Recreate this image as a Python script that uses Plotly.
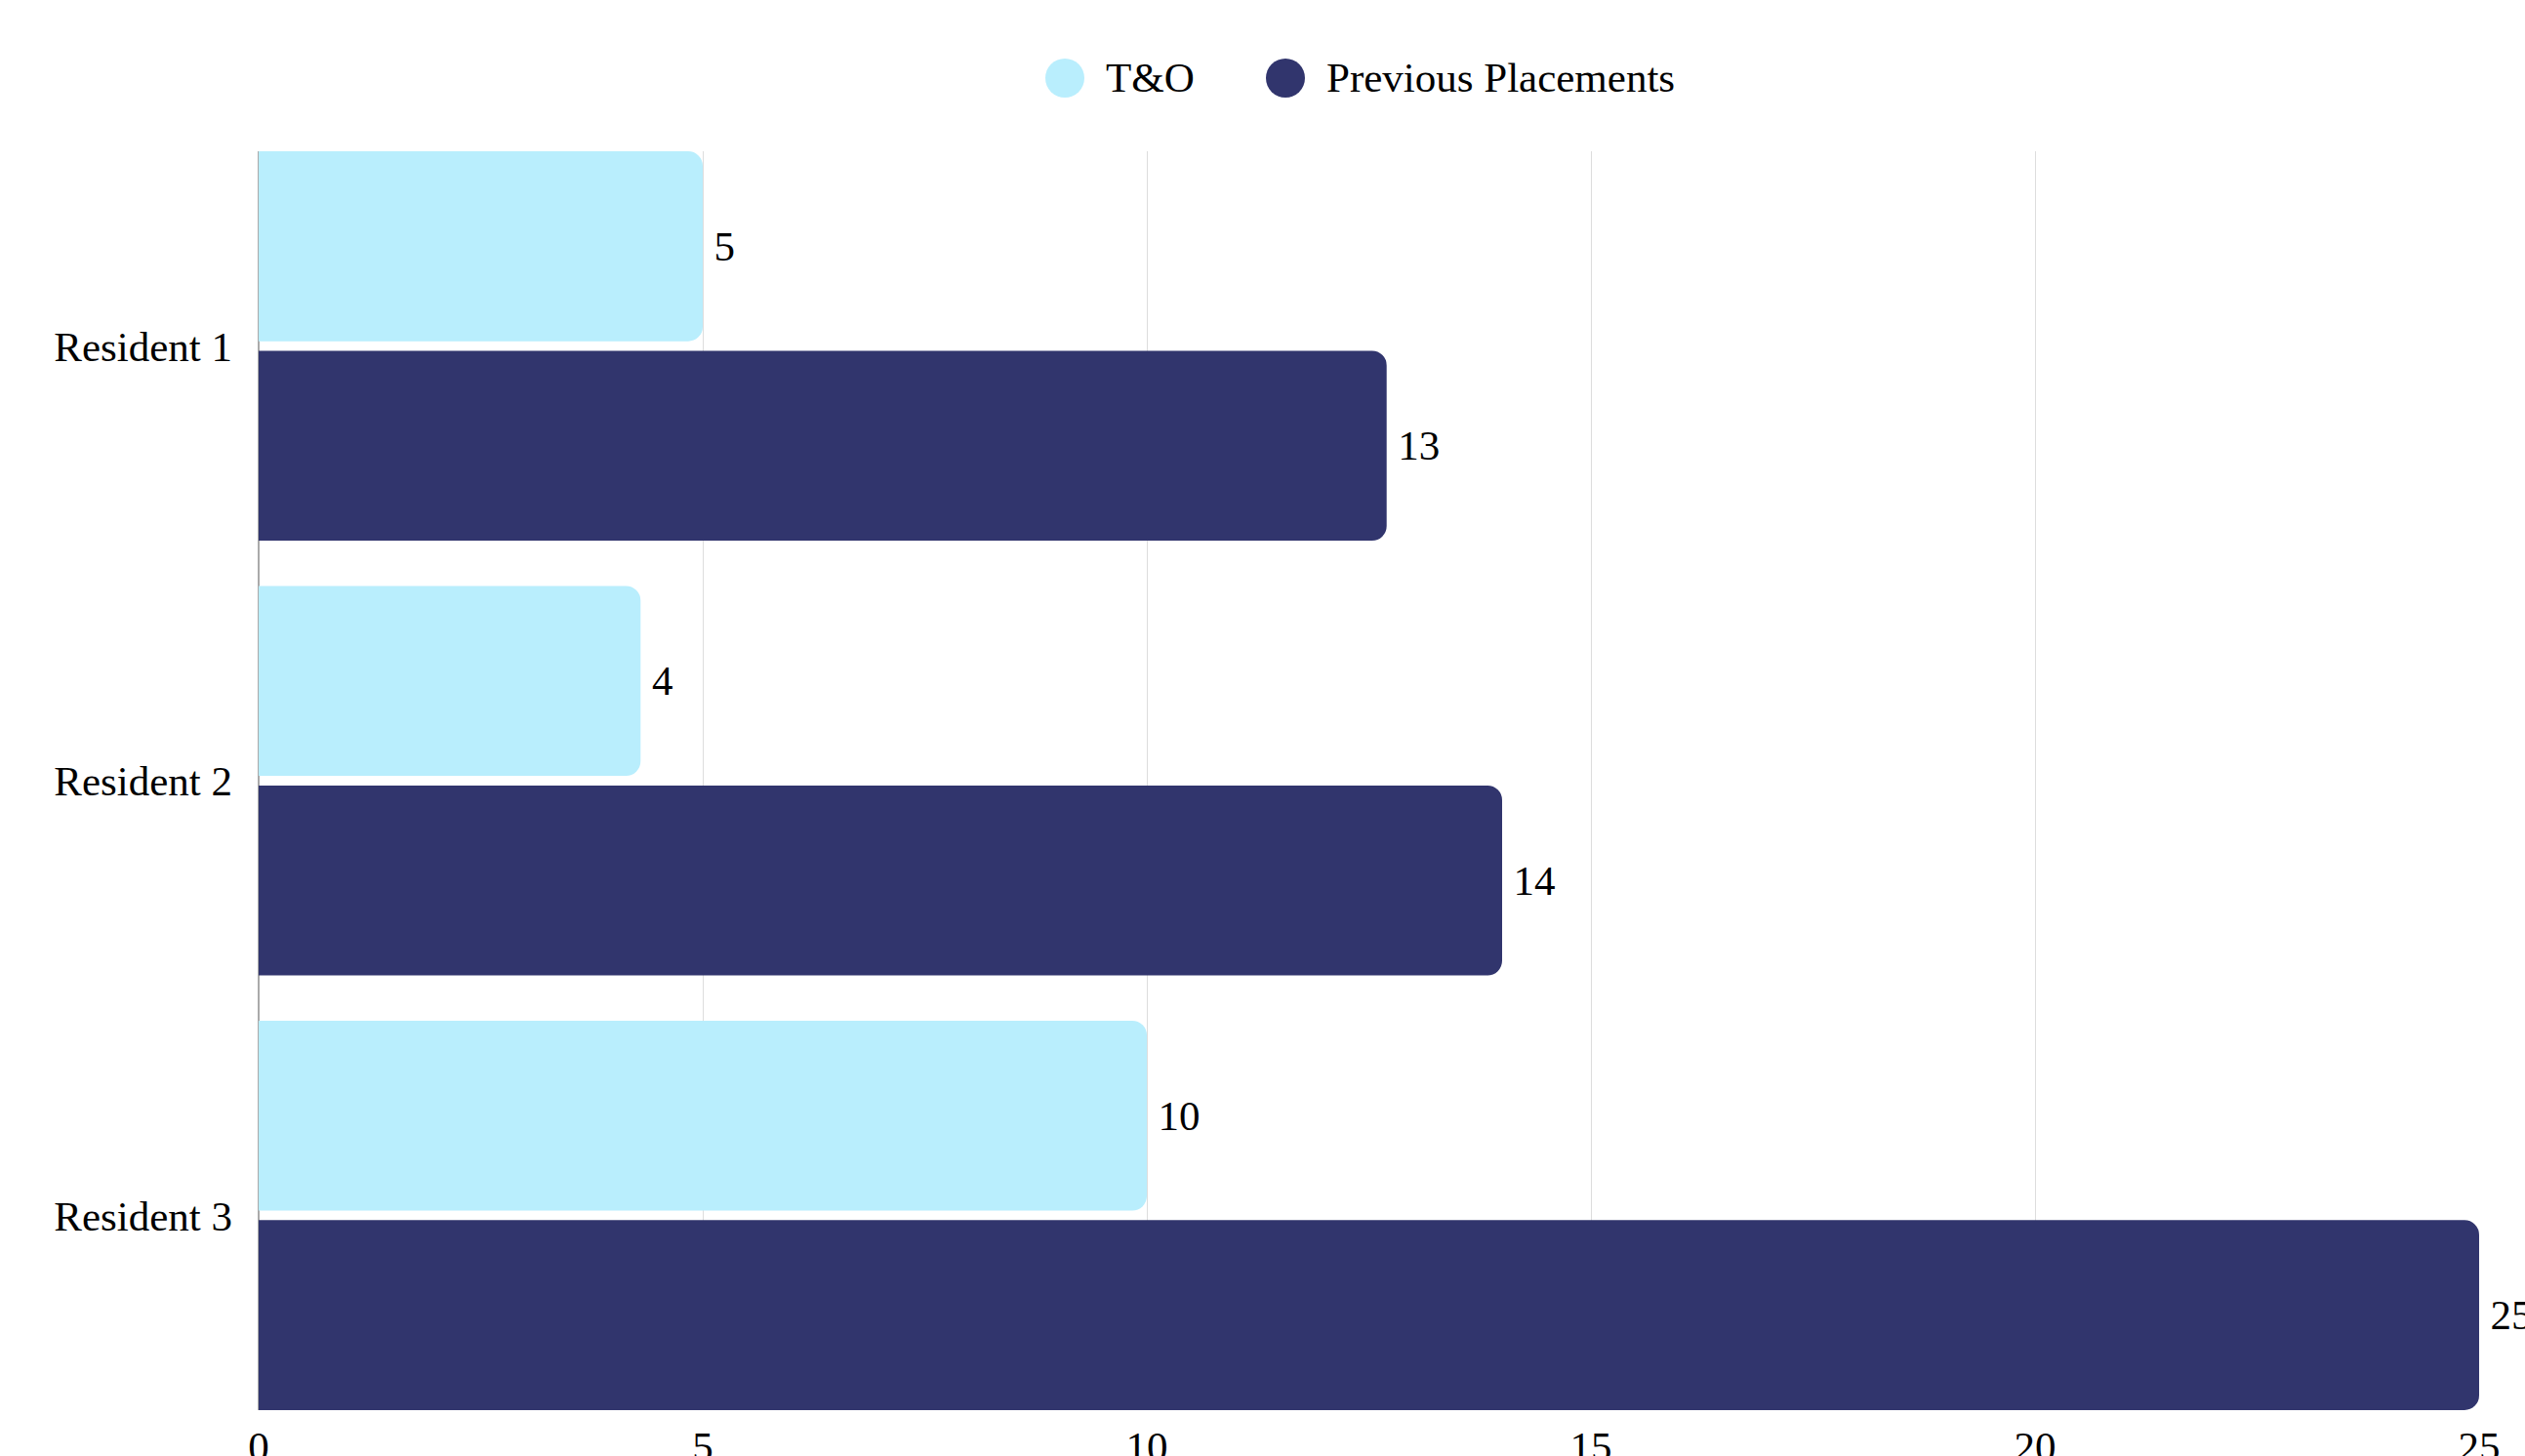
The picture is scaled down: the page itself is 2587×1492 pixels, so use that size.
import plotly.graph_objects as go

# ---- data ----
residents = ["Resident 1", "Resident 2", "Resident 3"]
series_names = ["T&O", "Previous Placements"]
to_values = [5, 4.3, 10]
previous_values = [12.7, 14, 25]
x_ticks = [0, 5, 10, 15, 20, 25]

# ---- style ----
W, H = 2587, 1492
L, R, T, B = 265, 47, 155, 47
FONT = "Liberation Serif"
FS = 43
C_LIGHT = "#B9EEFD"
C_DARK = "#31356D"

fig = go.Figure()
for name, vals, col in [(series_names[0], to_values, C_LIGHT),
                        (series_names[1], previous_values, C_DARK)]:
    fig.add_trace(go.Bar(
        y=residents, x=vals, name=name, orientation="h",
        marker=dict(color=col, line=dict(width=0)),
        texttemplate="\u2009%{x:.0f}", textposition="outside",
        textfont=dict(family=FONT, size=FS, color="black"),
        cliponaxis=False, showlegend=False,
    ))

pw = W - L - R
ph = H - T - B
def px(xp):
    return (xp - L) / pw
def py(yp):
    return 1 + (T - yp) / ph

shapes = []
annotations = []
legend_items = [(series_names[0], C_LIGHT, 1091, 1131),
                (series_names[1], C_DARK, 1317, 1357)]
for name, col, cx, tx in legend_items:
    shapes.append(dict(type="circle", xref="paper", yref="paper",
                       xsizemode="pixel", ysizemode="pixel",
                       xanchor=px(cx), yanchor=py(80),
                       x0=-20, x1=20, y0=-20, y1=20,
                       fillcolor=col, line=dict(width=0)))
    annotations.append(dict(text=name, xref="paper", yref="paper",
                            x=px(tx), y=py(80), xanchor="left", yanchor="middle",
                            showarrow=False,
                            font=dict(family=FONT, size=FS, color="black")))

fig.update_layout(
    width=W, height=H,
    margin=dict(l=L, r=R, t=T, b=B, pad=0),
    paper_bgcolor="white", plot_bgcolor="white",
    barmode="group", bargap=0.082, bargroupgap=0.048,
    barcornerradius=15,
    font=dict(family=FONT, size=FS, color="black"),
    shapes=shapes, annotations=annotations,
    showlegend=False,
)
fig.update_xaxes(range=[0, 25], tickvals=x_ticks, showgrid=True,
                 gridcolor="#DDDDDD", gridwidth=1,
                 zeroline=True, zerolinecolor="#AAAAAA", zerolinewidth=2,
                 showline=False, ticks="", ticklabelstandoff=8,
                 automargin=False,
                 tickfont=dict(family=FONT, size=FS, color="black"))
fig.update_yaxes(range=[2.448, -0.448], showgrid=False, zeroline=False,
                 showline=False, ticks="", ticklabelstandoff=26,
                 automargin=False,
                 tickfont=dict(family=FONT, size=FS, color="black"))

fig.write_html("out.html")
